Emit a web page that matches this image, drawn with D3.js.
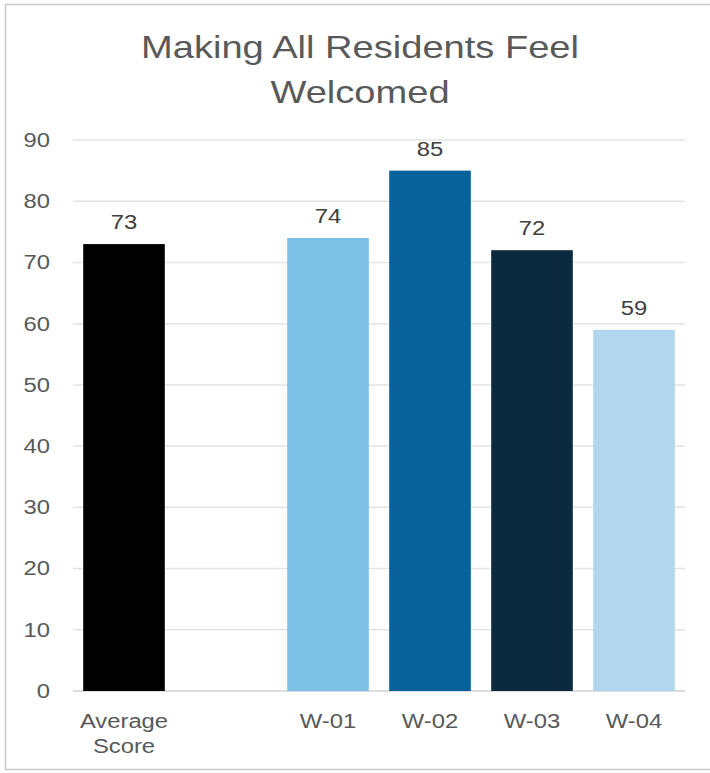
<!DOCTYPE html>
<html>
<head>
<meta charset="utf-8">
<script src="https://cdn.jsdelivr.net/npm/d3@7"></script>
<style>
  html, body { margin: 0; padding: 0; background: #fff; }
  svg { display: block; font-family: "Liberation Sans", Arial, sans-serif; }
</style>
</head>
<body>
<svg id="chart" width="710" height="773"></svg>
<script>
// Chart data
const categories = ["Average Score", "", "W-01", "W-02", "W-03", "W-04"];
const values = [73, null, 74, 85, 72, 59];
const barColors = ["#000000", null, "#7cc0e6", "#07629b", "#0b293f", "#b1d6ee"];
const yTicks = [0, 10, 20, 30, 40, 50, 60, 70, 80, 90];
const titleLines = ["Making All Residents Feel", "Welcomed"];

const svg = d3.select("#chart");
const W = 710, H = 773;
const plot = { left: 73, right: 685, top: 140, bottom: 691 };
const textColor = "#595959";
const SX = 1.19; // horizontal widening applied to all text

// place a horizontally widened text anchored at (x, y)
function addText(parent, x, y, str, size, anchor, color) {
  return parent.append("text")
    .attr("transform", `translate(${x},${y}) scale(${SX},1)`)
    .attr("text-anchor", anchor)
    .attr("fill", color)
    .style("font-size", size + "px")
    .text(str);
}

// frame
svg.append("rect")
  .attr("x", 5.5).attr("y", 4.5)
  .attr("width", W + 10).attr("height", H - 8)
  .attr("fill", "none").attr("stroke", "#c8c8c8").attr("stroke-width", 1.5);

const x = d3.scaleBand()
  .domain(d3.range(categories.length))
  .range([plot.left, plot.right])
  .paddingInner(0.2)
  .paddingOuter(0.1);

const y = d3.scaleLinear()
  .domain([0, 90])
  .range([plot.bottom, plot.top]);

// title
const titleG = svg.append("g");
titleLines.forEach((t, i) => addText(titleG, 360, 58 + i * 45, t, 32, "middle", textColor));

// gridlines
svg.append("g")
  .selectAll("line")
  .data(yTicks)
  .join("line")
  .attr("x1", plot.left).attr("x2", plot.right)
  .attr("y1", d => y(d)).attr("y2", d => y(d))
  .attr("stroke", d => d === 0 ? "#d0d0d0" : "#e3e3e3")
  .attr("stroke-width", 1.5);

// y axis labels
const yAxis = d3.axisLeft(y).tickValues(yTicks).tickSize(0).tickPadding(0);
const yg = svg.append("g")
  .attr("transform", `translate(50,0)`)
  .call(yAxis);
yg.select(".domain").remove();
yg.selectAll("text")
  .attr("x", null)
  .attr("transform", `scale(${SX},1)`)
  .attr("fill", textColor)
  .style("font-size", "20px")
  .style("font-family", "'Liberation Sans', Arial, sans-serif");

// bars
const data = categories.map((c, i) => ({ c, i, v: values[i], color: barColors[i] }))
  .filter(d => d.v != null);

svg.append("g")
  .selectAll("rect")
  .data(data)
  .join("rect")
  .attr("x", d => x(d.i))
  .attr("y", d => y(d.v))
  .attr("width", x.bandwidth())
  .attr("height", d => y(0) - y(d.v))
  .attr("fill", d => d.color);

// value labels
const valG = svg.append("g");
data.forEach(d => addText(valG, x(d.i) + x.bandwidth() / 2, y(d.v) - 15, d.v, 20, "middle", "#404040"));

// category labels (wrapped on spaces)
const catG = svg.append("g");
categories.forEach((c, i) => {
  if (!c) return;
  c.split(" ").forEach((w, k) =>
    addText(catG, x(i) + x.bandwidth() / 2, 728 + k * 25, w, 20, "middle", textColor));
});
</script>
</body>
</html>
